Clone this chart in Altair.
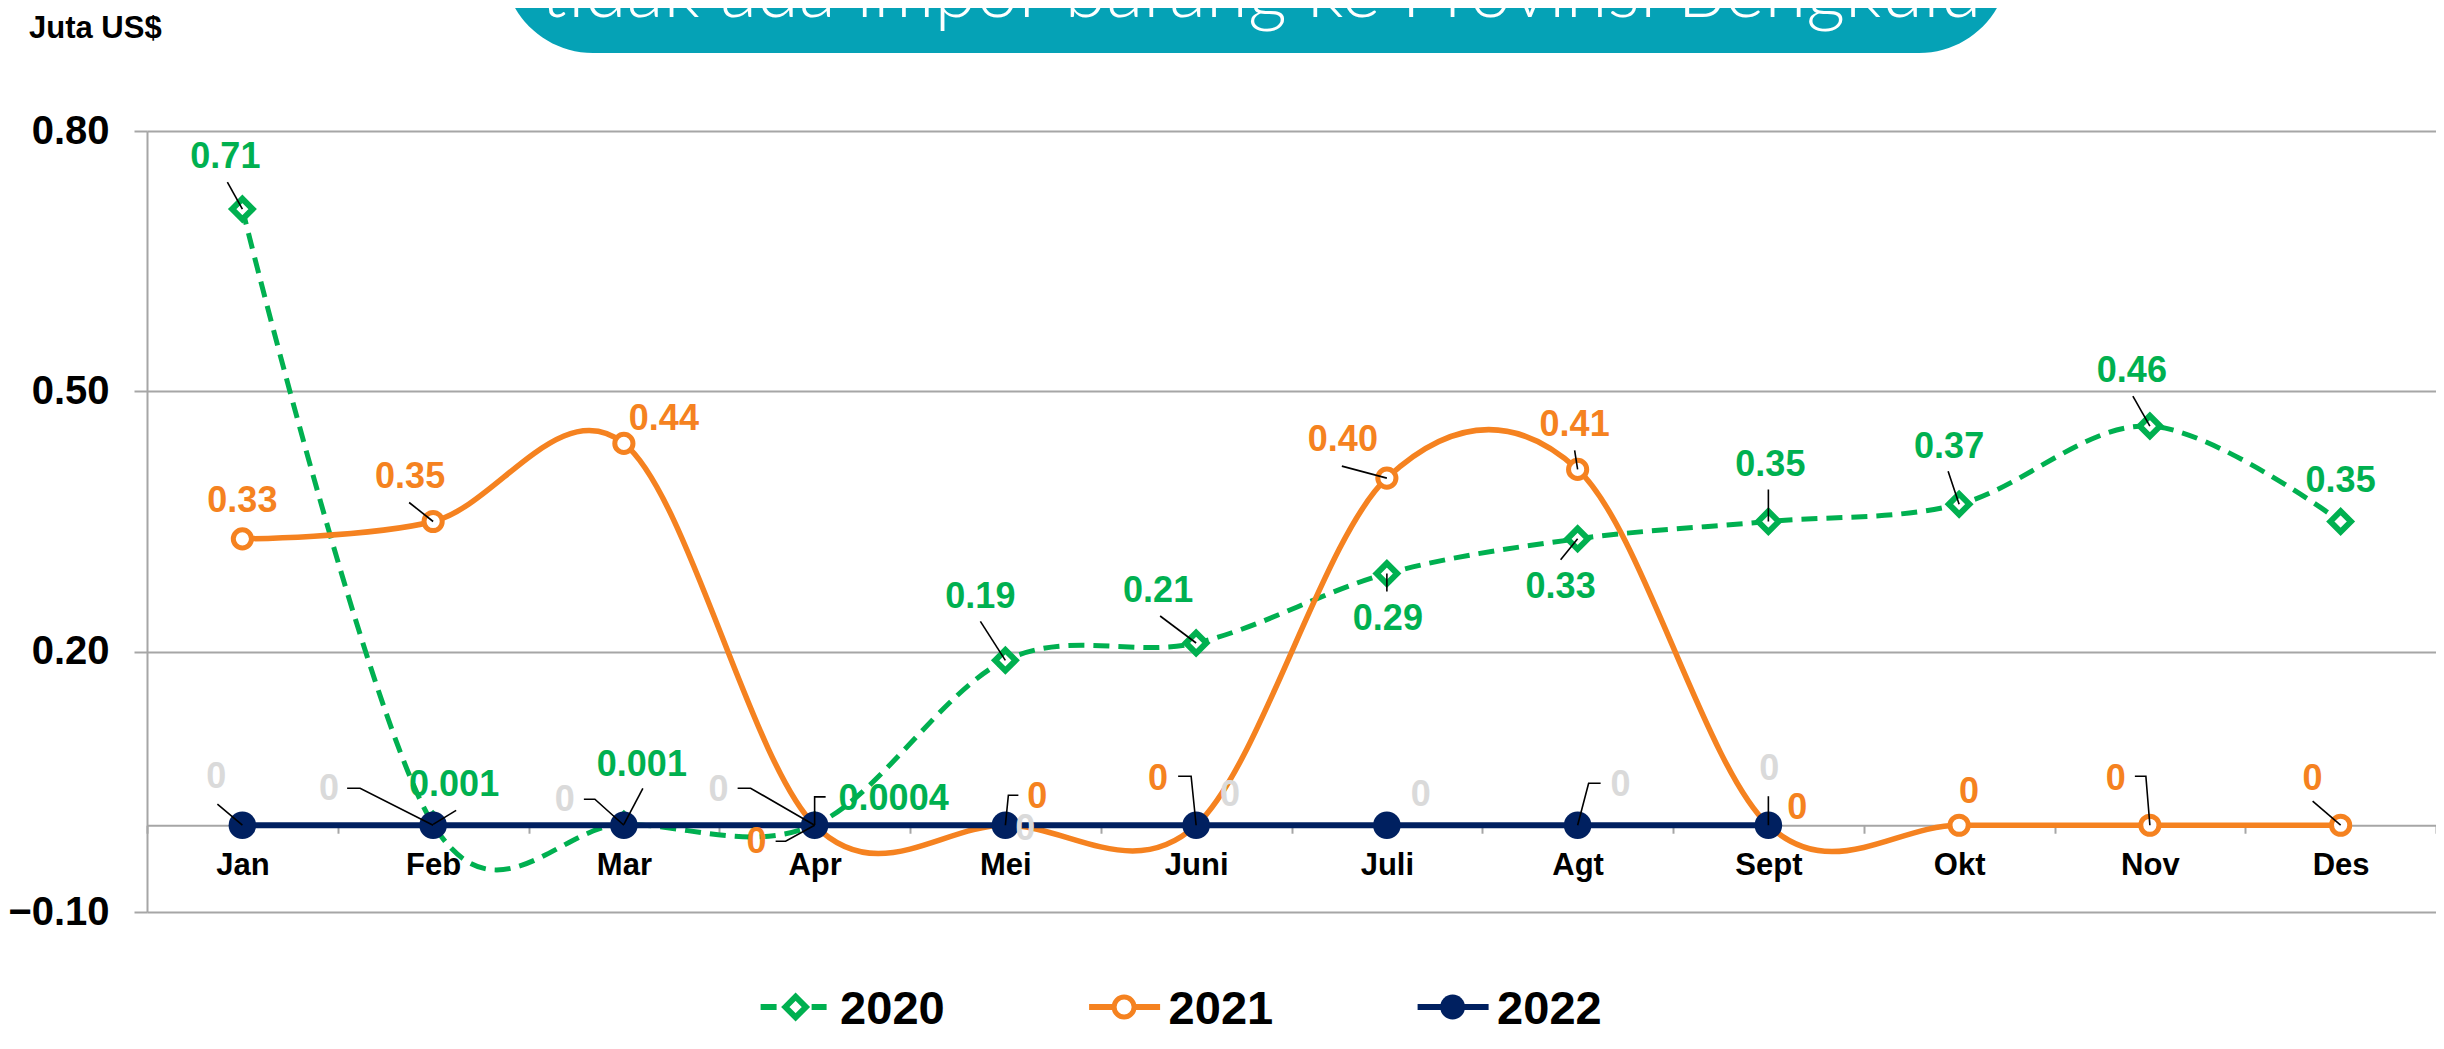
import altair as alt
import pandas as pd

# ---------------- data ----------------
months = ["Jan", "Feb", "Mar", "Apr", "Mei", "Juni", "Juli", "Agt", "Sept", "Okt", "Nov", "Des"]
years = ["2020", "2021", "2022"]
v2020 = [0.71, 0.001, 0.001, 0.0004, 0.19, 0.21, 0.29, 0.33, 0.35, 0.37, 0.46, 0.35]
v2021 = [0.33, 0.35, 0.44, 0.0, 0.0, 0.0, 0.40, 0.41, 0.0, 0.0, 0.0, 0.0]
v2022 = [0.0, 0.0, 0.0, 0.0, 0.0, 0.0, 0.0, 0.0, 0.0]
lab2020 = ["0.71", "0.001", "0.001", "0.0004", "0.19", "0.21", "0.29", "0.33", "0.35", "0.37", "0.46", "0.35"]
lab2021 = ["0.33", "0.35", "0.44", "0", "0", "0", "0.40", "0.41", "0", "0", "0", "0"]
lab2022 = ["0", "0", "0", "0", "0", "0", "0", "0", "0"]
y_ticks = [-0.1, 0.2, 0.5, 0.8]
unit_label = ["Juta US$"]
banner_text = ["tidak ada impor barang ke Provinsi Bengkulu"]

# ---------------- layout (pixels) ----------------
W, H = 2289, 781
BAND = W / 12.0
PPU = H / 0.9
FONT = "Liberation Sans, Arial, sans-serif"
GREEN, ORANGE, NAVY = "#00B050", "#F58220", "#002060"
ZERO_GRAY = "#DADADA"
GRID = "#A6A6A6"
TEAL = "#05A2B6"

# label centre offsets (dx, dy) from each point, px
off2020 = [(-17, -52), (21, -39), (18, -59), (79, -26), (-25, -63), (-38, -52),
           (1, 45), (-17, 48), (2, -57), (-10, -57), (-18, -55), (0, -41)]
off2021 = [(0, -38), (-23, -45), (40, -24), (-58, 17), (32, -28), (-38, -46),
           (-44, -38), (-3, -44), (29, -17), (10, -33), (-34, -46), (-28, -46)]
off2022 = [(-26, -48), (-104, -36), (-59, -25), (-96, -35), (20, 4), (34, -30),
           (34, -30), (43, -40), (1, -56)]
# leader lines: (elbow dx, elbow dy, horizontal tick) or None
lead2020 = [(-15, -27, 0), (23, -14, 0), (19, -36, 0), (0, -28, 11), (-25, -39, 0), (-36, -27, 0),
            (0, 18, 0), (-17, 21, 0), (0, -32, 0), (-11, -33, 0), (-17, -30, 0), None]
lead2021 = [None, (-24, -19, 0), None, (-29, 16, -10), (3, -30, 10), (-5, -49, -13),
            (-45, -12, 0), (-3, -19, 0), None, None, (-4, -49, -11), (-28, -24, 0)]
lead2022 = [(-25, -21, 0), (-73, -37, -13), (-29, -26, -11), (-64, -37, -13), None, None,
            None, (11, -42, 12), (0, -29, 0)]


def series_df(vals):
    return pd.DataFrame({"xv": list(range(len(vals))), "yv": vals})


def label_df(vals, labels, offs):
    rows = []
    for i, (v, t, (dx, dy)) in enumerate(zip(vals, labels, offs)):
        rows.append({"xv": i + dx / BAND, "yv": v - dy / PPU, "t": t})
    return pd.DataFrame(rows)


def leader_rows(vals, leads, name):
    rows = []
    for i, (v, ld) in enumerate(zip(vals, leads)):
        if ld is None:
            continue
        lx, ly, tk = ld
        pts = [(i, v), (i + lx / BAND, v - ly / PPU)]
        if tk:
            pts.append((i + (lx + tk) / BAND, v - ly / PPU))
        for s, (x, y) in enumerate(pts):
            rows.append({"lid": f"{name}-{i}", "seq": s, "xv": x, "yv": y})
    return rows


xq = alt.X("xv:Q", scale=alt.Scale(domain=[-0.5, 11.5], nice=False, zero=False), axis=None)
yaxis = alt.Axis(values=y_ticks, format=".2f", title=None, grid=True, gridColor=GRID, gridWidth=2,
                 domainColor=GRID, domainWidth=2, tickColor=GRID, tickWidth=2, tickSize=13,
                 labelFont=FONT, labelFontSize=40, labelFontWeight="bold", labelColor="black",
                 labelPadding=25, labelFlush=False, labelOverlap=False)
yq = alt.Y("yv:Q", scale=alt.Scale(domain=[-0.1, 0.8], nice=False, zero=False), axis=yaxis)

# x axis (band) at y = 0
xband = alt.X("month:N", sort=months,
              scale=alt.Scale(type="band", paddingInner=0, paddingOuter=0),
              axis=alt.Axis(title=None, orient="bottom", offset=-(0.1 * PPU), grid=False,
                            domainColor=GRID, domainWidth=2, tickColor=GRID, tickWidth=2,
                            tickSize=8, tickBand="extent", labelAngle=0, labelFont=FONT,
                            labelFontSize=31, labelFontWeight="bold", labelColor="black",
                            labelPadding=17))
axis_layer = alt.Chart(pd.DataFrame({"month": months})).mark_point(opacity=0).encode(x=xband)

# series
line20 = alt.Chart(series_df(v2020)).mark_line(color=GREEN, strokeWidth=5, strokeDash=[16, 9],
                                               interpolate="cardinal").encode(x=xq, y=yq)
pts20 = alt.Chart(series_df(v2020)).mark_point(shape="diamond", filled=True, fill="white",
                                               stroke=GREEN, strokeWidth=6, size=420,
                                               opacity=1).encode(x=xq, y=yq)
line21 = alt.Chart(series_df(v2021)).mark_line(color=ORANGE, strokeWidth=5.5,
                                               interpolate="cardinal").encode(x=xq, y=yq)
pts21 = alt.Chart(series_df(v2021)).mark_point(shape="circle", filled=True, fill="white",
                                               stroke=ORANGE, strokeWidth=5, size=330,
                                               opacity=1).encode(x=xq, y=yq)
line22 = alt.Chart(series_df(v2022)).mark_line(color=NAVY, strokeWidth=6).encode(x=xq, y=yq)
pts22 = alt.Chart(series_df(v2022)).mark_point(shape="circle", filled=True, color=NAVY,
                                               size=760, opacity=1).encode(x=xq, y=yq)

lead_df = pd.DataFrame(leader_rows(v2020, lead2020, "a") + leader_rows(v2021, lead2021, "b")
                       + leader_rows(v2022, lead2022, "c"))
leaders = alt.Chart(lead_df).mark_line(color="black", strokeWidth=1.6).encode(
    x=xq, y=yq, detail="lid:N", order="seq:Q")


def text_layer(df, color):
    return alt.Chart(df).mark_text(font=FONT, fontSize=36, fontWeight="bold", color=color,
                                   align="center", baseline="middle").encode(x=xq, y=yq, text="t:N")


labels20 = text_layer(label_df(v2020, lab2020, off2020), GREEN)
labels21 = text_layer(label_df(v2021, lab2021, off2021), ORANGE)
labels22 = text_layer(label_df(v2022, lab2022, off2022), ZERO_GRAY)

# header
unit = alt.Chart(pd.DataFrame({"t": unit_label})).mark_text(
    font=FONT, fontSize=31, fontWeight="bold", color="black", align="left", baseline="alphabetic"
).encode(x=alt.value(-118), y=alt.value(-93), text="t:N")
banner = alt.Chart(pd.DataFrame({"t": banner_text})).mark_rect(color=TEAL, cornerRadius=90).encode(
    x=alt.value(356), x2=alt.value(1862), y=alt.value(-320), y2=alt.value(-78))
banner_txt = alt.Chart(pd.DataFrame({"t": banner_text})).mark_text(
    font="Lato, Open Sans, sans-serif", fontSize=76, fontWeight=300, color="white",
    align="center", baseline="alphabetic").encode(x=alt.value(1114), y=alt.value(-114), text="t:N")

# legend
LEG_X0, LEG_STEP, LEG_Y, LEG_TY = 613.6, 328.5, 876, 893
leg_start = [LEG_X0 + LEG_STEP * k for k in range(3)]


def leg_rule(segs, color):
    df = pd.DataFrame({"a": [s[0] for s in segs], "b": [s[1] for s in segs]})
    return alt.Chart(df).mark_rule(color=color, strokeWidth=6).encode(
        x=alt.X("a:Q", scale=None), x2="b:Q", y=alt.value(LEG_Y))


def leg_point(xpos, **kw):
    return alt.Chart(pd.DataFrame({"m": [xpos]})).mark_point(opacity=1, **kw).encode(
        x=alt.X("m:Q", scale=None), y=alt.value(LEG_Y))


leg_layers = [
    leg_rule([(leg_start[0], leg_start[0] + 16), (leg_start[0] + 51, leg_start[0] + 66)], GREEN),
    leg_point(leg_start[0] + 35, shape="diamond", filled=True, fill="white", stroke=GREEN,
              strokeWidth=6, size=420),
    leg_rule([(leg_start[1], leg_start[1] + 71)], ORANGE),
    leg_point(leg_start[1] + 35, shape="circle", filled=True, fill="white", stroke=ORANGE,
              strokeWidth=5, size=400),
    leg_rule([(leg_start[2], leg_start[2] + 71)], NAVY),
    leg_point(leg_start[2] + 35, shape="circle", filled=True, color=NAVY, size=620),
]
leg_text = alt.Chart(pd.DataFrame({"year": years, "tx": [s + 79.5 for s in leg_start]})).mark_text(
    font=FONT, fontSize=47, fontWeight="bold", color="black", align="left", baseline="alphabetic"
).encode(x=alt.X("tx:Q", scale=None), y=alt.value(LEG_TY), text="year:N")

chart = alt.layer(
    axis_layer, line20, pts20, line21, pts21, line22, pts22, leaders,
    labels20, labels21, labels22, unit, banner, banner_txt, *leg_layers, leg_text
).resolve_scale(x="independent").properties(
    width=W, height=H,
    autosize=alt.AutoSizeParams(type="none"),
    padding={"left": 139, "top": 123, "right": 0, "bottom": 122},
    background="white",
).configure_view(stroke=None)

chart.save("out.html", embed_options={"renderer": "svg", "actions": False})
